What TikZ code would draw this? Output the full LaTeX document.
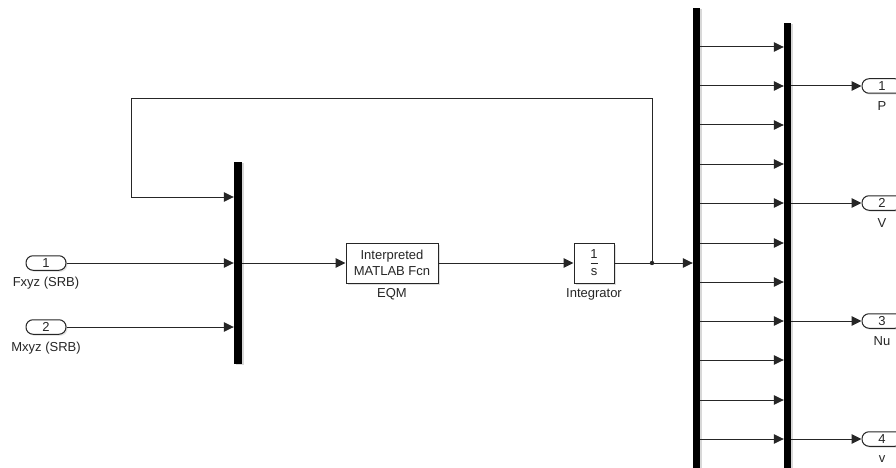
\documentclass[tikz,border=0pt]{standalone}
\usepackage{fontspec}
\setmainfont{Liberation Sans}
\usetikzlibrary{arrows.meta,shadows,calc}
\begin{document}
\begin{tikzpicture}[x=1pt,y=-1pt,
  wire/.style={line width=1pt, draw=black!85},
  arr/.style={wire,-{Triangle[length=10pt,width=9.5pt]}},
  txt/.style={font=\fontsize{13}{15}\selectfont, inner sep=0pt, text=black!85},
  barnode/.style={fill=black, draw=none, inner sep=0pt, minimum width=#1,
    drop shadow={shadow xshift=2pt, shadow yshift=-1pt, opacity=0.3}},
  blk/.style={draw=black!85, line width=1pt, fill=white, inner sep=0pt,
    font=\fontsize{13}{16}\selectfont, text=black!85,
    drop shadow={shadow xshift=1.5pt, shadow yshift=-1.5pt, opacity=0.25}},
  portbox/.style={draw=black!85, line width=1pt, fill=white, rounded corners=7pt,
    minimum width=40pt, minimum height=14.5pt, inner sep=0pt,
    font=\fontsize{13}{15}\selectfont, text=black!85,
    drop shadow={shadow xshift=1.5pt, shadow yshift=-1.5pt, opacity=0.2}}
]
\useasboundingbox (0,0) rectangle (896,468);
\fill[white] (0,0) rectangle (896,468);
\clip (0,0) rectangle (896,468);

% inports
\node[portbox] (in1) at (46,263) {1};
\node[txt] (in1l) at (46,283) {Fxyz (SRB)};
\node[portbox] (in2) at (46,327) {2};
\node[txt] (in2l) at (46,348) {Mxyz (SRB)};

% blocks
\node[blk, minimum width=92pt, minimum height=40pt, align=center] (eqm) at (392,263) {Interpreted\\MATLAB Fcn};
\node[txt] (eqml) at (392,294) {EQM};
\node[blk, minimum width=40pt, minimum height=40pt] (int) at (594,263) {};
\node[txt] (one) at (594,254) {1};
\node[txt] (ess) at (594,272) {s};
\draw[line width=0.8pt, black!85] ($(int.center)+(-3.5,0)$) -- ($(int.center)+(3.5,0)$);
\node[txt] (intl) at (594,294) {Integrator};

% feedback route
\coordinate (br) at (652,263);
\coordinate (fbA) at (652,99);
\coordinate (fbB) at (131,99);
\coordinate (fbC) at (131,197);

% bars
\node[barnode=8pt, minimum height=202pt] (mux) at (238,263) {};
\node[barnode=7pt, minimum height=467pt] (d1) at (696.5,241.5) {};
\node[barnode=7pt, minimum height=452pt] (d2) at (787.5,249) {};

% connectors
\draw[arr] (in1.east) -- (in1.east -| mux.west);
\draw[arr] (in2.east) -- (in2.east -| mux.west);
\draw[arr] (fbC) -- (fbC -| mux.west);
\draw[wire] (br) -- (fbA) -- (fbB) -- (fbC);
\draw[arr] (mux.east |- eqm.west) -- (eqm.west);
\draw[arr] (eqm.east) -- (int.west);
\draw[arr] (int.east) -- (int.east -| d1.west);
\fill[black!85] (br) circle (2.2pt);

\foreach \yy in {47,86,125,164,203,243,282,321,360,400,439}
  \draw[arr] (d1.east |- 0,\yy) -- (d2.west |- 0,\yy);

% outports
\foreach \n/\yy/\lab in {1/86/P,2/203/V,3/321/Nu,4/439/v}{
  \node[portbox] (out\n) at (882,\yy) {\n};
  \node[txt] (outl\n) at (882,\yy+20) {\lab};
  \draw[arr] (d2.east |- out\n.west) -- (out\n.west);
}
\end{tikzpicture}
\end{document}
